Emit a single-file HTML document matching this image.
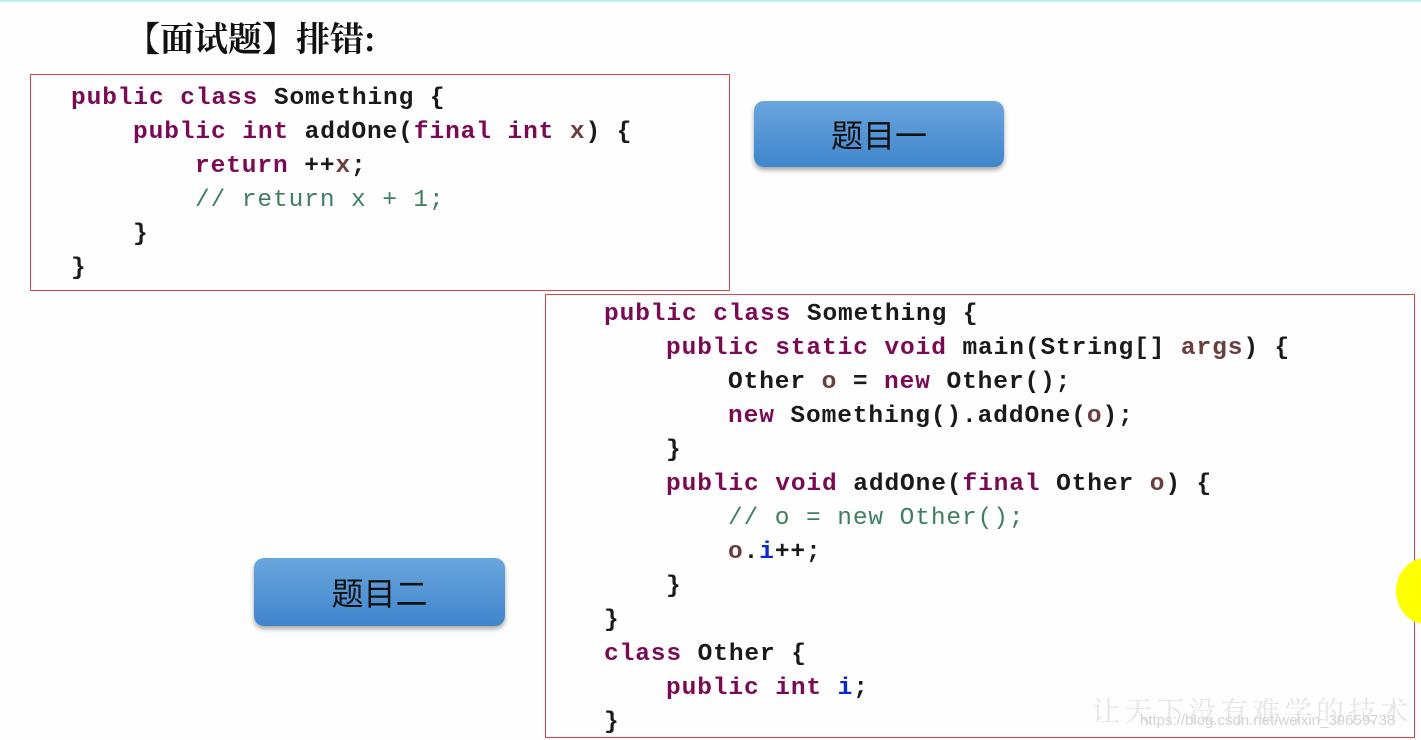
<!DOCTYPE html>
<html><head><meta charset="utf-8"><style>
body{margin:0;width:1421px;height:740px;background:#fdfefd;position:relative;overflow:hidden;font-family:"Liberation Sans","Noto Sans CJK SC",sans-serif}
.top{position:absolute;left:0;top:0;width:1421px;height:2px;background:#bff0ec}
.title{position:absolute;left:126px;top:12px;font-size:34px;font-weight:bold;color:#111;font-family:"Noto Serif CJK SC","Noto Sans CJK SC",serif;white-space:nowrap}
.box{position:absolute;border:1.5px solid #d9434a}
.l{position:absolute;font-family:"Liberation Mono",monospace;font-size:24.5px;letter-spacing:0.9px;font-weight:bold;color:#1a1a1a;white-space:pre;line-height:34px}
.k{color:#7b0a55}.p{color:#6a3e3e}.c{color:#3f7f5f;font-weight:normal}.f{color:#0a2ad0}
.btn{position:absolute;border-radius:10px;background:linear-gradient(#6aa6de,#3f85cc);box-shadow:0 3px 5px rgba(0,0,0,.35);color:#111;font-size:32px;display:flex;align-items:center;justify-content:center;font-family:"Noto Sans CJK SC",sans-serif}
</style></head><body>
<div class="top"></div>
<div class="title">【面试题】排错:</div>
<div class="box" style="left:30px;top:74px;width:698px;height:215px"></div>
<div class="l" style="left:71px;top:82px"><span class="k">public class</span> Something {</div>
<div class="l" style="left:133px;top:116px"><span class="k">public int</span> addOne(<span class="k">final int</span> <span class="p">x</span>) {</div>
<div class="l" style="left:195px;top:150px"><span class="k">return</span> ++<span class="p">x</span>;</div>
<div class="l c" style="left:195px;top:184px">// return x + 1;</div>
<div class="l" style="left:133px;top:218px">}</div>
<div class="l" style="left:71px;top:252px">}</div>

<div class="btn" style="left:754px;top:101px;width:250px;height:66px">题目一</div>
<div class="btn" style="left:254px;top:558px;width:251px;height:68px">题目二</div>

<div class="box" style="left:545px;top:294px;width:868px;height:442px"></div>
<div class="l" style="left:604px;top:298px"><span class="k">public class</span> Something {</div>
<div class="l" style="left:666px;top:332px"><span class="k">public static void</span> main(String[] <span class="p">args</span>) {</div>
<div class="l" style="left:728px;top:366px">Other <span class="p">o</span> = <span class="k">new</span> Other();</div>
<div class="l" style="left:728px;top:400px"><span class="k">new</span> Something().addOne(<span class="p">o</span>);</div>
<div class="l" style="left:666px;top:434px">}</div>
<div class="l" style="left:666px;top:468px"><span class="k">public void</span> addOne(<span class="k">final</span> Other <span class="p">o</span>) {</div>
<div class="l c" style="left:728px;top:502px">// o = new Other();</div>
<div class="l" style="left:728px;top:536px"><span class="p">o</span>.<span class="f">i</span>++;</div>
<div class="l" style="left:666px;top:570px">}</div>
<div class="l" style="left:604px;top:604px">}</div>
<div class="l" style="left:604px;top:638px"><span class="k">class</span> Other {</div>
<div class="l" style="left:666px;top:672px"><span class="k">public int</span> <span class="f">i</span>;</div>
<div class="l" style="left:604px;top:706px">}</div>

<div style="position:absolute;left:1396px;top:558px;width:60px;height:66px;border-radius:50%;background:#ffff00"></div>
<div style="position:absolute;left:1092px;top:690px;font-size:28px;color:#e6e6e6;font-family:'Noto Serif CJK SC',serif;letter-spacing:4px;white-space:nowrap">让天下没有难学的技术</div>
<div style="position:absolute;left:1140px;top:712px;font-size:15px;color:#d4d4d4;white-space:nowrap">https://blog.csdn.net/weixin_39659738</div>
</body></html>
